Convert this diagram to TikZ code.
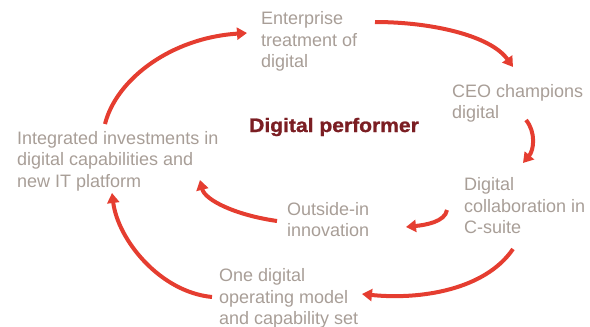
\documentclass[tikz,border=0pt]{standalone}
\usepackage{fontspec}
\setmainfont{Liberation Sans}
\newfontfamily\titlefont[FakeStretch=1.08,FakeBold=1.2]{Liberation Sans Bold}
\usetikzlibrary{arrows.meta}
\definecolor{txtgrey}{HTML}{A89E97}
\definecolor{titlered}{HTML}{7B1E23}
\definecolor{arrowred}{HTML}{E53D30}
\tikzset{
  label/.style={anchor=base west, inner sep=0pt, align=left, text=txtgrey,
    font=\fontsize{18}{21.5}\selectfont},
  cyclearrow/.style={draw=arrowred, line width=4pt,
    -{Triangle[length=10pt,width=12pt]}}
}
\begin{document}
\begin{tikzpicture}[x=1pt,y=-1pt]
\useasboundingbox (0,0) rectangle (590,327);
% anchor = baseline of the last line
\node[label] (ent) at (261,67.5) {Enterprise\\treatment of\\digital};
\node[label] (ceo) at (452,118.5) {CEO champions\\digital};
\node[label] (collab) at (464,233.5) {Digital\\collaboration in\\C-suite};
\node[label] (outside) at (287,236.5) {Outside-in\\innovation};
\node[label] (onedig) at (219,324.5) {One digital\\operating model\\and capability set};
\node[label] (integ) at (17,187) {Integrated investments in\\digital capabilities and\\new IT platform};
\node[anchor=base west, inner sep=0pt, text=titlered,
  font=\titlefont\fontsize{19.5}{22}\selectfont] (title) at (249,132) {Digital performer};
% arrow end points
\coordinate (a1s) at (105,124); \coordinate (a1e) at (247,33);
\coordinate (a2s) at (375,22);  \coordinate (a2e) at (513,67);
\coordinate (a3s) at (526,120); \coordinate (a3e) at (523,163);
\coordinate (a4s) at (447,210); \coordinate (a4e) at (406,227);
\coordinate (a5s) at (277,221); \coordinate (a5e) at (200,180);
\coordinate (a6s) at (513,249); \coordinate (a6e) at (362,294);
\coordinate (a7s) at (212,297); \coordinate (a7e) at (112,193);
\draw[cyclearrow] (a1s) .. controls (116,80) and (170,38) .. (a1e);
\draw[cyclearrow] (a2s) .. controls (430,22) and (490,35) .. (a2e);
\draw[cyclearrow] (a3s) .. controls (536,132) and (534,150) .. (a3e);
\draw[cyclearrow] (a4s) .. controls (445,222) and (425,225) .. (a4e);
\draw[cyclearrow] (a5s) .. controls (235,215) and (205,200) .. (a5e);
\draw[cyclearrow] (a6s) .. controls (485,290) and (420,300) .. (a6e);
\draw[cyclearrow] (a7s) .. controls (160,292) and (118,240) .. (a7e);
\end{tikzpicture}
\end{document}
